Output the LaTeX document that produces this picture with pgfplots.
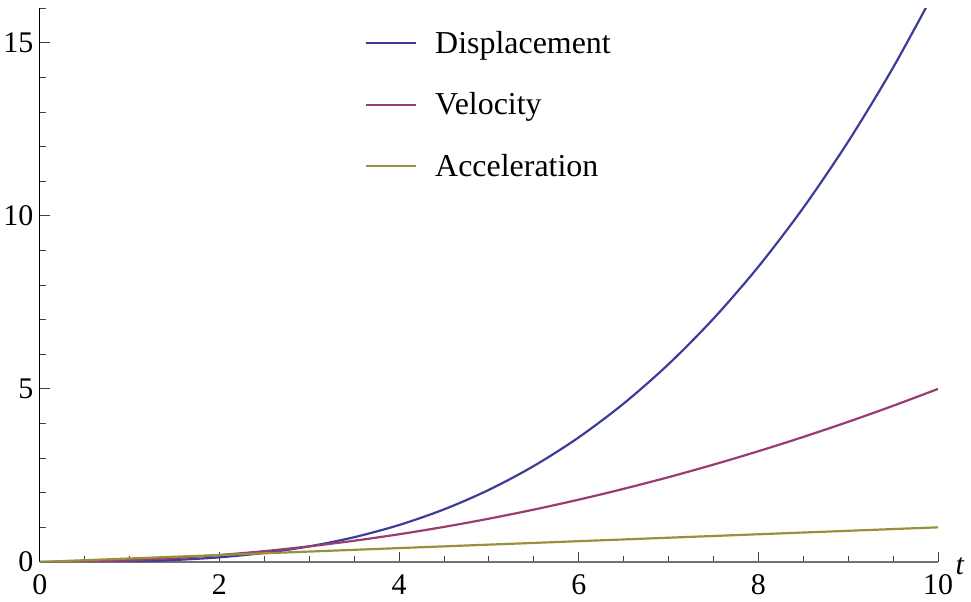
\documentclass[border=0pt]{standalone}
\usepackage{fontspec}
\setmainfont{Liberation Serif}
\usepackage{pgfplots}
\pgfplotsset{compat=1.18}
\definecolor{cD}{rgb}{0.24,0.24,0.6}
\definecolor{cV}{rgb}{0.6,0.24,0.442}
\definecolor{cA}{rgb}{0.6,0.56,0.24}
\begin{document}
\begin{tikzpicture}
\begin{axis}[
  anchor=origin, at={(0,0)},
  scale only axis, width=900bp, height=554.7bp,
  xmin=0, xmax=10, ymin=0, ymax=16,
  axis lines=left,
  axis line style={-},
  x axis line style={black!55, line width=1.2bp},
  y axis line style={black, line width=1bp},
  xtick={0,2,4,6,8,10}, minor xtick={0.5,1,1.5,2.5,3,3.5,4.5,5,5.5,6.5,7,7.5,8.5,9,9.5},
  ytick={0,5,10,15}, minor ytick={1,2,3,4,6,7,8,9,11,12,13,14,16},
  tick align=inside,
  major tick length=10bp, minor tick length=6bp,
  every tick/.style={black!75, line width=0.9bp},
  /pgf/number format/assume math mode=true,
  ticklabel style={font=\fontsize{30bp}{34bp}\selectfont},
  xticklabel style={yshift=-9bp},
  yticklabel style={xshift=-3bp},
  xlabel={\textit{t}},
  xlabel style={at={(rel axis cs:1,0)}, anchor=west, xshift=14bp, yshift=-4bp, font=\fontsize{30bp}{34bp}\selectfont},
  legend style={at={(axis cs:3.62,15.4)}, anchor=north west, draw=none, fill=none,
    font=\fontsize{32bp}{35bp}\selectfont, row sep=34bp, inner sep=0pt},
  legend cell align=left,
  legend image code/.code={\draw[#1] (0bp,0bp) -- (50bp,0bp); \path (66bp,0bp);},
  every axis plot/.append style={line width=2.2bp, smooth},
]
\addplot[cD] coordinates {(0,0) (0.5,0.00208) (1,0.01667) (1.5,0.05625) (2,0.13333) (2.5,0.26042) (3,0.45) (3.5,0.71458) (4,1.06667) (4.5,1.51875) (5,2.08333) (5.5,2.77292) (6,3.6) (6.5,4.57708) (7,5.71667) (7.5,7.03125) (8,8.53333) (8.5,10.23542) (9,12.15) (9.5,14.28958) (10,16.66667)};
\addlegendentry{Displacement}
\addplot[cV] coordinates {(0,0) (0.5,0.0125) (1,0.05) (1.5,0.1125) (2,0.2) (2.5,0.3125) (3,0.45) (3.5,0.6125) (4,0.8) (4.5,1.0125) (5,1.25) (5.5,1.5125) (6,1.8) (6.5,2.1125) (7,2.45) (7.5,2.8125) (8,3.2) (8.5,3.6125) (9,4.05) (9.5,4.5125) (10,5)};
\addlegendentry{Velocity}
\addplot[cA] coordinates {(0,0) (1,0.1) (2,0.2) (3,0.3) (4,0.4) (5,0.5) (6,0.6) (7,0.7) (8,0.8) (9,0.9) (10,1)};
\addlegendentry{Acceleration}
\end{axis}
\useasboundingbox (-38bp,-40bp) rectangle (933bp,563bp);
\end{tikzpicture}
\end{document}
